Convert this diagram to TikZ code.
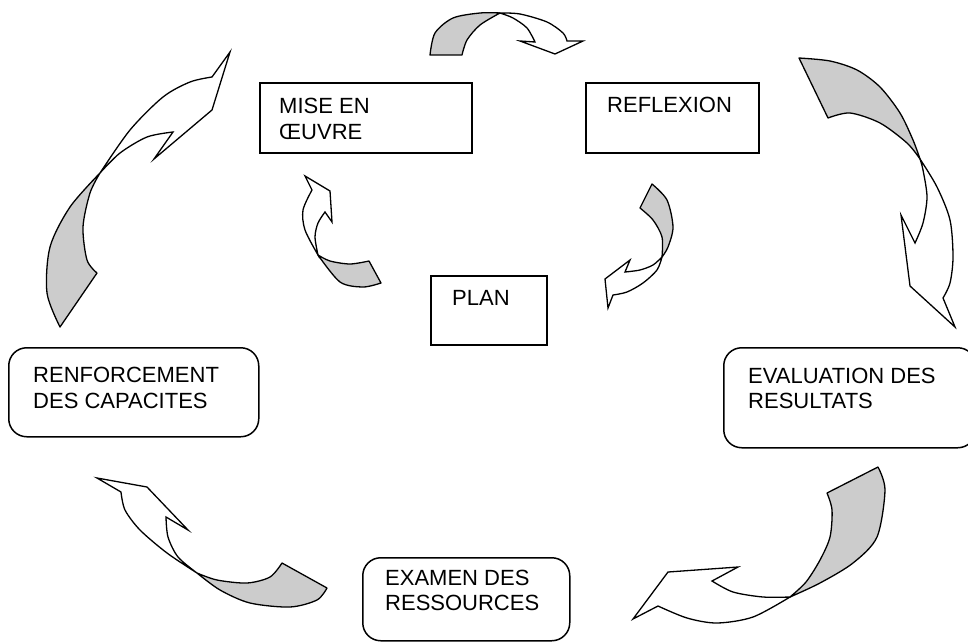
\documentclass[tikz,border=0pt]{standalone}
\usepackage{fontspec}
\setmainfont{Liberation Sans}
\definecolor{bandgray}{HTML}{CCCCCC}
\begin{document}
\begin{tikzpicture}[x=1pt,y=-1pt,
  box/.style={draw, line width=1.5pt, fill=white, inner sep=0pt, anchor=north west},
  rbox/.style={box, rounded corners=18pt},
  lbl/.style={anchor=base west, inner sep=0pt, font=\fontsize{22}{26}\selectfont},
  band/.style={draw, line width=1.3pt, line join=round, fill=bandgray},
  head/.style={draw, line width=1.3pt, line join=miter, fill=white}]
\useasboundingbox (0,0) rectangle (968,642);
\clip (0,0) rectangle (968,642);

% ---- boxes ----
\node[box,  minimum width=212pt, minimum height=70pt]  (mise) at (259,82)  {};
\node[box,  minimum width=173pt, minimum height=70pt]  (refl) at (585,82)  {};
\node[box,  minimum width=116pt, minimum height=69pt]  (plan) at (430,275) {};
\node[rbox, minimum width=250pt, minimum height=89pt]  (renf) at (8,347)   {};
\node[rbox, minimum width=252pt, minimum height=100pt] (eval) at (723,347) {};
\node[rbox, minimum width=207pt, minimum height=83pt]  (exam) at (362,557) {};

% ---- labels ----
\node[lbl] (mise1) at (279,113) {MISE EN};
\node[lbl] (mise2) at (279,139) {ŒUVRE};
\node[lbl] (refl1) at (607,112) {REFLEXION};
\node[lbl] (plan1) at (452,305) {PLAN};
\node[lbl] (renf1) at (33,382)  {RENFORCEMENT};
\node[lbl] (renf2) at (33,408)  {DES CAPACITES};
\node[lbl] (eval1) at (748,383) {EVALUATION DES};
\node[lbl] (eval2) at (748,408) {RESULTATS};
\node[lbl] (exam1) at (385,585) {EXAMEN DES};
\node[lbl] (exam2) at (385,610) {RESSOURCES};

% ---- curved arrows: shaded back band, then white front with head ----
% top: mise en oeuvre -> reflexion
\filldraw[band] (430,55) -- plot[smooth] coordinates {(430,55) (435,33) (453,18) (480,13) (500,13)}
  -- plot[smooth] coordinates {(500,13) (480,25) (467,40) (462,55)} -- cycle;
\filldraw[head] (500,13) -- plot[smooth] coordinates {(500,13) (520,14) (547,22) (563,33) (567,41)}
  -- (583,41) -- (555,54) -- (520,41) -- (535,42)
  -- plot[smooth] coordinates {(535,42) (527,28) (513,18) (500,13)} -- cycle;

% right: reflexion -> evaluation
\filldraw[band] (799,58) -- (828,118) -- plot[smooth] coordinates {(828,118) (850,113) (880,123) (907,143) (920,159)}
  -- plot[smooth] coordinates {(920,159) (913,140) (900,113) (880,87) (857,70) (830,61) (799,58)} -- cycle;
\filldraw[head] (920,159) -- plot[smooth] coordinates {(920,159) (937,187) (950,220) (953,257) (950,283) (943,298)}
  -- (955,327) -- (910,286) -- (901,215) -- (915,243)
  -- plot[smooth] coordinates {(915,243) (923,223) (927,197) (923,170) (920,159)} -- cycle;

% bottom right: evaluation -> examen
\filldraw[band] (827,493) -- (878,467) -- plot[smooth] coordinates {(878,467) (885,490) (877,537) (853,563) (820,583) (790,597)}
  -- plot[smooth] coordinates {(790,597) (806,582) (820,560) (830,537) (832,510) (827,493)} -- cycle;
\filldraw[head] (790,597) -- plot[smooth] coordinates {(790,597) (753,617) (717,623) (687,618) (658,606)}
  -- (633,619) -- (668,572) -- (738,567) -- (712,581)
  -- plot[smooth] coordinates {(712,581) (733,592) (763,597) (790,597)} -- cycle;

% bottom left: examen -> renforcement
\filldraw[band] (282,563) -- (327,588) -- plot[smooth] coordinates {(327,588) (317,600) (290,607) (250,603) (220,590) (197,573)}
  -- plot[smooth] coordinates {(197,573) (217,580) (247,583) (270,577) (282,563)} -- cycle;
\filldraw[head] (197,573) -- plot[smooth] coordinates {(197,573) (167,553) (140,530) (125,510) (121,492)}
  -- (97,478) -- (147,487) -- (188,530) -- (166,517)
  -- plot[smooth] coordinates {(166,517) (168,537) (178,557) (197,573)} -- cycle;

% left: renforcement -> mise en oeuvre
\filldraw[band] (60,327) -- (97,273) -- plot[smooth] coordinates {(97,273) (87,260) (83,227) (90,193) (100,173)}
  -- plot[smooth] coordinates {(100,173) (70,207) (50,247) (47,293) (60,327)} -- cycle;
\filldraw[head] (100,173) -- plot[smooth] coordinates {(100,173) (130,130) (163,97) (190,82) (212,77)}
  -- (230,52) -- (212,110) -- (154,159) -- (173,132)
  -- plot[smooth] coordinates {(173,132) (147,137) (120,153) (100,173)} -- cycle;

% inner small: plan -> mise en oeuvre
\filldraw[band] (369,261) -- (381,283) -- plot[smooth] coordinates {(381,283) (363,287) (340,282) (318,255)}
  -- plot[smooth] coordinates {(318,255) (330,261) (350,264) (369,261)} -- cycle;
\filldraw[head] (318,255) -- plot[smooth] coordinates {(318,255) (305,230) (303,210) (312,190)}
  -- (305,176) -- (330,191) -- (332,222) -- (325,212)
  -- plot[smooth] coordinates {(325,212) (318,223) (315,237) (318,255)} -- cycle;

% inner small: reflexion -> plan
\filldraw[band] (640,208) -- (652,184) -- plot[smooth] coordinates {(652,184) (667,200) (673,227) (668,247) (662,257)}
  -- plot[smooth] coordinates {(662,257) (662,237) (653,220) (640,208)} -- cycle;
\filldraw[head] (662,257) -- plot[smooth] coordinates {(662,257) (657,270) (643,283) (627,292) (613,295)}
  -- (608,308) -- (605,279) -- (630,260) -- (625,272)
  -- plot[smooth] coordinates {(625,272) (640,270) (653,265) (662,257)} -- cycle;
\end{tikzpicture}
\end{document}
